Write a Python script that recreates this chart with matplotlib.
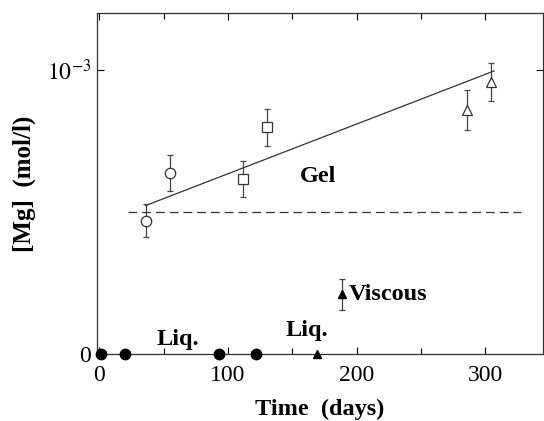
import matplotlib
matplotlib.use("Agg")
import matplotlib.pyplot as plt

plt.rcParams['font.family'] = ['Liberation Serif', 'DejaVu Serif']
plt.rcParams['mathtext.fontset'] = 'stix'

# Gel data (open symbols) with error bars
circ_x = [36, 55]
circ_y = [0.468e-3, 0.637e-3]
circ_err = [0.058e-3, 0.064e-3]
sq_x = [112, 130]
sq_y = [0.614e-3, 0.797e-3]
sq_err = [0.063e-3, 0.066e-3]
tri_x = [286, 305]
tri_y = [0.858e-3, 0.956e-3]
tri_err = [0.069e-3, 0.068e-3]
# Viscous
visc_x = [189]
visc_y = [0.21e-3]
visc_err = [0.054e-3]
# Liquid (at zero)
liq_circ_x = [1, 20, 93, 122]
liq_circ_y = [0, 0, 0, 0]
liq_tri_x = [169]
liq_tri_y = [0]
# Fit line and threshold
fit_x = [36, 307]
fit_y = [0.522e-3, 0.995e-3]
thr_x = [22, 328]
thr_y = [0.5e-3, 0.5e-3]

fig = plt.figure(figsize=(5.44, 4.21), dpi=100)
ax = fig.add_axes([0.178, 0.159, 0.820, 0.811])

ax.plot(fit_x, fit_y, color='#333333', lw=0.9)
ax.plot(thr_x, thr_y, color='#333333', lw=0.9, ls=(0, (7, 4)))

ekw = dict(ecolor='#444444', elinewidth=0.9, capsize=2.5, capthick=0.9, ls='none')
ax.errorbar(circ_x, circ_y, yerr=circ_err, marker='o', ms=7.5, mfc='white', mec='#333333', mew=0.9, **ekw)
ax.errorbar(sq_x, sq_y, yerr=sq_err, marker='s', ms=7, mfc='white', mec='#333333', mew=0.9, **ekw)
ax.errorbar(tri_x, tri_y, yerr=tri_err, marker='^', ms=7.5, mfc='white', mec='#333333', mew=0.9, **ekw)
ax.errorbar(visc_x, visc_y, yerr=visc_err, marker='^', ms=6, mfc='black', mec='black', **ekw)

ax.plot(liq_circ_x, liq_circ_y, 'o', color='black', ms=7.5, ls='none', clip_on=False, zorder=5)
ax.plot(liq_tri_x, liq_tri_y, '^', color='black', ms=6, ls='none', clip_on=False, zorder=5)

tfs = 17.5
ax.text(170, 0.623e-3, 'Gel', fontsize=tfs, fontweight='bold', ha='center', va='center')
ax.text(194, 0.21e-3, 'Viscous', fontsize=tfs, fontweight='bold', ha='left', va='center')
ax.text(61, 0.05e-3, 'Liq.', fontsize=tfs, fontweight='bold', ha='center', va='center')
ax.text(161, 0.084e-3, 'Liq.', fontsize=tfs, fontweight='bold', ha='center', va='center')

ax.set_xlim(-2, 345)
ax.set_ylim(0, 1.2e-3)
ax.set_xticks([0, 100, 200, 300])
ax.set_xticks([50, 150, 250], minor=True)
ax.set_yticks([0, 1e-3])
ax.set_yticklabels(['0', r'$10^{-3}$'])
ax.tick_params(axis='both', which='both', direction='in', top=True, right=True,
               labelsize=17, width=0.8)
ax.tick_params(axis='both', which='major', length=5)
ax.tick_params(axis='both', which='minor', length=4)
ax.tick_params(axis='x', pad=8)
ax.tick_params(axis='y', pad=4)
for s in ax.spines.values():
    s.set_linewidth(0.9)
    s.set_color('#333333')

ax.set_xlabel('Time  (days)', fontsize=17.5, fontweight='bold', labelpad=9)
ax.set_ylabel('[Mg]  (mol/l)', fontsize=18, fontweight='bold', labelpad=8)

fig.savefig('out.png', dpi=100)
